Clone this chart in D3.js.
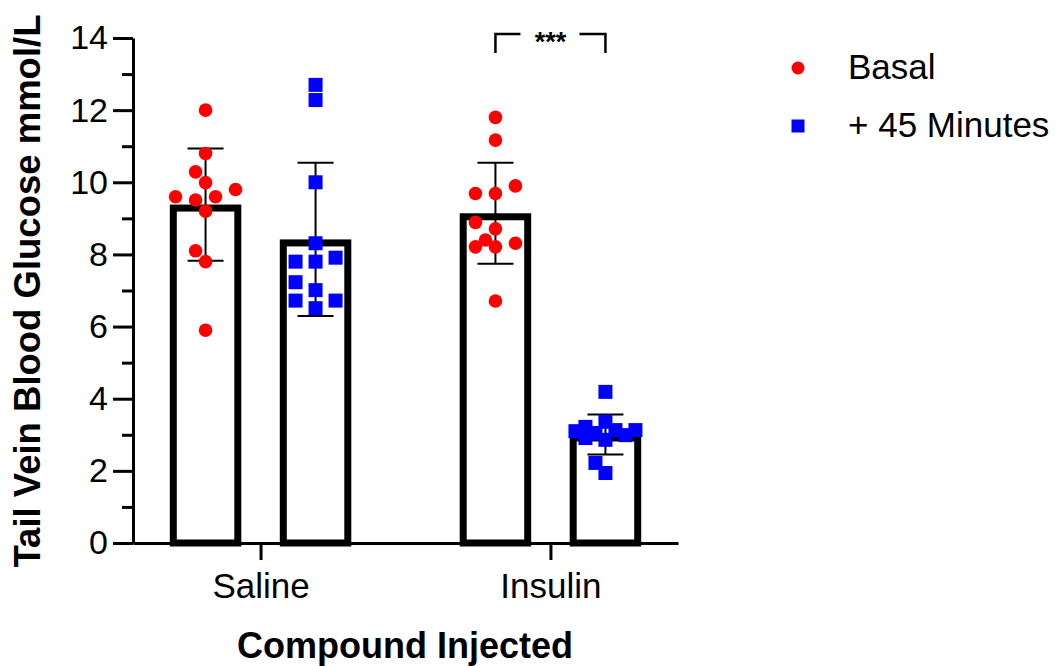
<!DOCTYPE html>
<html>
<head>
<meta charset="utf-8">
<script src="https://cdn.jsdelivr.net/npm/d3@7"></script>
<style>
  body { margin: 0; background: #fff; }
  svg { font-family: Arial, "Liberation Sans", sans-serif; }
</style>
</head>
<body>
<svg id="chart"></svg>
<script>
"use strict";

// ---------- data ----------
const groups = ["Saline", "Insulin"];
const series = ["Basal", "+ 45 Minutes"];
const salineBasal = [12.0, 10.8, 10.29, 9.99, 9.8, 9.6, 9.51, 9.6, 9.2, 8.1, 7.8, 5.9];
const saline45 = [12.7, 12.28, 10.0, 8.31, 7.91, 7.8, 7.8, 7.23, 7.01, 6.72, 6.72, 6.51];
const insulinBasal = [11.8, 11.17, 9.9, 9.69, 9.69, 8.89, 8.71, 8.4, 8.31, 8.21, 8.21, 6.71];
const insulin45 = [4.19, 3.36, 3.22, 3.13, 3.13, 3.1, 3.05, 2.99, 2.91, 2.86, 2.22, 1.94];
const yTicks = [0, 2, 4, 6, 8, 10, 12, 14];
const yMinorTicks = [1, 3, 5, 7, 9, 11, 13];
const sigLabel = "***";

const cells = [
  { group: "Saline", series: "Basal", values: salineBasal },
  { group: "Saline", series: "+ 45 Minutes", values: saline45 },
  { group: "Insulin", series: "Basal", values: insulinBasal },
  { group: "Insulin", series: "+ 45 Minutes", values: insulin45 }
];

// ---------- layout ----------
const W = 1056, H = 666;
const svg = d3.select("#chart").attr("width", W).attr("height", H);

const y = d3.scaleLinear().domain([0, 14]).range([543, 38]);
const x = d3.scalePoint().domain(groups).range([133, 678]).padding(0.44);
const xInner = d3.scaleBand().domain(series).range([-110, 110])
  .paddingInner(0.35).paddingOuter(0.175);
const color = d3.scaleOrdinal().domain(series).range(["#ff0000", "#0000ff"]);

const barStroke = 7;
const cx = d => x(d.group) + xInner(d.series) + xInner.bandwidth() / 2;

// ---------- bars ----------
cells.forEach(c => { c.mean = d3.mean(c.values); c.sd = d3.deviation(c.values); });

svg.append("g").selectAll("rect")
  .data(cells).join("rect")
  .attr("x", d => cx(d) - xInner.bandwidth() / 2 + barStroke / 2)
  .attr("width", xInner.bandwidth() - barStroke)
  .attr("y", d => y(d.mean) + barStroke / 2)
  .attr("height", d => y(0) - y(d.mean) - barStroke / 2)
  .attr("fill", "#fff")
  .attr("stroke", "#000")
  .attr("stroke-width", barStroke);

// ---------- error bars (mean ± SD) ----------
const eb = svg.append("g").attr("stroke", "#000").attr("stroke-width", 2);
cells.forEach(c => {
  const xc = cx(c);
  eb.append("line").attr("x1", xc).attr("x2", xc)
    .attr("y1", y(c.mean + c.sd)).attr("y2", y(c.mean - c.sd));
  [c.mean + c.sd, c.mean - c.sd].forEach(v => {
    eb.append("line").attr("x1", xc - 18).attr("x2", xc + 18)
      .attr("y1", y(v)).attr("y2", y(v));
  });
});

// ---------- scatter points, swarm kept within +/-30px ----------
const minDist = 13;
const offsets = [0, -10, 10, -20, 20, -30, 30];
cells.forEach(c => {
  const placed = [];
  const xc = cx(c);
  const sorted = c.values.slice().sort((a, b) => a - b);
  sorted.forEach(v => {
    const py = y(v);
    let best = null, bestD = -1;
    for (const off of offsets) {
      const d = d3.min(placed, p => Math.hypot(p.x - (xc + off), p.y - py)) ?? Infinity;
      if (d >= minDist) { best = off; break; }
      if (d > bestD) { bestD = d; best = off; }
    }
    placed.push({ x: xc + best, y: py });
  });
  const g = svg.append("g").attr("fill", color(c.series));
  if (c.series === "Basal") {
    g.selectAll("circle").data(placed).join("circle")
      .attr("cx", p => p.x).attr("cy", p => p.y).attr("r", 6.8);
  } else {
    g.selectAll("rect").data(placed).join("rect")
      .attr("x", p => p.x - 7).attr("y", p => p.y - 7)
      .attr("width", 14).attr("height", 14);
  }
});

// ---------- axes ----------
svg.append("g").attr("transform", "translate(133,0)")
  .call(d3.axisLeft(y).tickValues(yTicks).tickSize(20).tickSizeOuter(0).tickPadding(5));
svg.append("g").attr("transform", "translate(133,0)")
  .call(d3.axisLeft(y).tickValues(yMinorTicks).tickSize(11).tickFormat(""))
  .call(g => g.select(".domain").remove());

const xAxis = svg.append("g").attr("transform", "translate(0,543)")
  .call(d3.axisBottom(x).tickSize(17).tickSizeOuter(0).tickPadding(13));

svg.selectAll(".tick line, .domain").attr("stroke", "#000").attr("stroke-width", 3);
svg.selectAll(".tick text").attr("fill", "#000").style("font-size", "34px");
xAxis.selectAll(".tick text").style("font-size", "35px");

// axis titles
svg.append("text")
  .attr("x", 405).attr("y", 658)
  .attr("text-anchor", "middle")
  .style("font-size", "36px").style("font-weight", "bold")
  .text("Compound Injected");

svg.append("text")
  .attr("transform", "translate(40,291) rotate(-90)")
  .attr("text-anchor", "middle")
  .style("font-size", "36.5px").style("font-weight", "bold")
  .text("Tail Vein Blood Glucose mmol/L");

// ---------- significance bracket ----------
const bx1 = cx(cells[2]), bx2 = cx(cells[3]);
const bm = (bx1 + bx2) / 2;
const br = svg.append("g").attr("fill", "none").attr("stroke", "#000").attr("stroke-width", 2.5);
br.append("path").attr("d", `M${bx1},53 V34 H${bm - 30}`);
br.append("path").attr("d", `M${bm + 29},34 H${bx2} V53`);
svg.append("text")
  .attr("x", bm).attr("y", 51)
  .attr("text-anchor", "middle")
  .style("font-size", "27px").style("font-weight", "bold")
  .text(sigLabel);

// ---------- legend ----------
const legend = svg.append("g").attr("transform", "translate(798,0)");
series.forEach((s, i) => {
  const ly = 68 + i * 58;
  if (i === 0) {
    legend.append("circle").attr("cx", 0).attr("cy", ly).attr("r", 6.5).attr("fill", color(s));
  } else {
    legend.append("rect").attr("x", -6.5).attr("y", ly - 6.5)
      .attr("width", 13).attr("height", 13).attr("fill", color(s));
  }
  legend.append("text")
    .attr("x", 50).attr("y", ly + 11)
    .style("font-size", "35px")
    .text(s);
});
</script>
</body>
</html>
